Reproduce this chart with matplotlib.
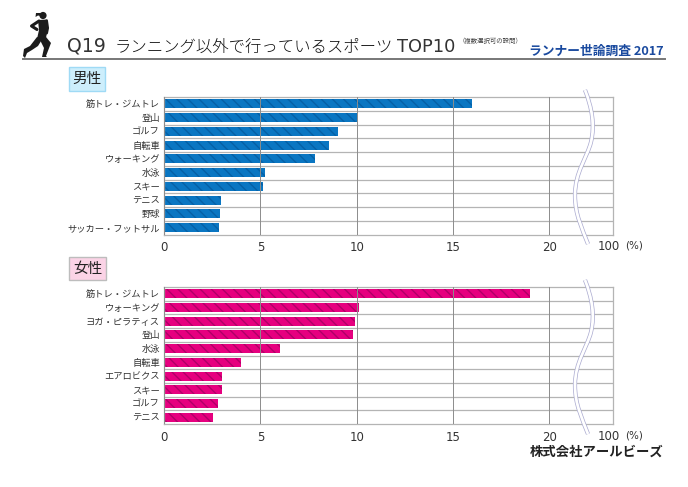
#!/usr/bin/env python3
# -*- coding: utf-8 -*-
import matplotlib
matplotlib.use("Agg")
import matplotlib.pyplot as plt
from matplotlib.patches import Circle, PathPatch, Polygon, Rectangle
from matplotlib.path import Path

plt.rcParams['font.family'] = ['Noto Sans CJK JP', 'DejaVu Sans']
plt.rcParams['hatch.linewidth'] = 1.0

W, H = 688, 487

male_labels = ["筋トレ・ジムトレ", "登山", "ゴルフ", "自転車", "ウォーキング",
               "水泳", "スキー", "テニス", "野球", "サッカー・フットサル"]
male_values = [16.0, 10.0, 9.05, 8.55, 7.85, 5.25, 5.15, 2.95, 2.9, 2.85]

female_labels = ["筋トレ・ジムトレ", "ウォーキング", "ヨガ・ピラティス", "登山", "水泳",
                 "自転車", "エアロビクス", "スキー", "ゴルフ", "テニス"]
female_values = [19.0, 10.1, 9.9, 9.8, 6.0, 4.0, 3.0, 3.0, 2.8, 2.55]

x_ticks = [0, 5, 10, 15, 20]
x_tick_labels = ["0", "5", "10", "15", "20"]
x_end = 23.3  # right edge of the plot, just past the axis break

TEXT = '#333333'
GRID = '#b4b4b4'


def draw_panel(fig, labels, values, top, bottom, color, hatch_color):
    ax = fig.add_axes([164 / W, 1 - bottom / H, (613 - 164) / W, (bottom - top) / H])
    ax.barh(labels, values, height=0.66, color=color, edgecolor=hatch_color,
            linewidth=0, hatch='\\\\\\', zorder=2)
    ax.set_xlim(0, x_end)
    ax.set_ylim(len(labels) - 0.5, -0.5)
    ax.set_xticks(x_ticks)
    ax.set_xticklabels(x_tick_labels, fontsize=8.5, color=TEXT, family='DejaVu Sans')
    ax.tick_params(axis='x', length=0, pad=5)
    ax.tick_params(axis='y', length=0, pad=3, labelsize=6.7, labelcolor=TEXT)
    ax.grid(True, axis='x', color='#8c8c8c', linewidth=0.7, zorder=3)
    ax.set_axisbelow(False)
    for i in range(len(labels) - 1):
        ax.axhline(i + 0.5, color=GRID, linewidth=0.9, zorder=1)
    for side in ax.spines.values():
        side.set_color(GRID)
        side.set_linewidth(0.9)
    return ax


def draw_break(over, dy):
    verts = [(585, 90), (592, 108), (595, 125), (591, 142),
             (587, 158), (575, 172), (575, 195),
             (575, 215), (582, 228), (588, 244)]
    verts = [(x, y + dy) for x, y in verts]
    codes = [Path.MOVETO] + [Path.CURVE4] * 9
    path = Path(verts, codes)
    over.add_patch(PathPatch(path, fc='none', ec='#a9a9cf', lw=3.0))
    over.add_patch(PathPatch(path, fc='none', ec='white', lw=2.0))


def draw_runner(over):
    ink = '#1c1c1c'
    over.add_patch(Circle((43, 15.5), 3.6, color=ink, lw=0))
    over.add_patch(Polygon([(41, 13), (36, 13), (35.5, 17), (38, 15.5), (41, 16)], color=ink, lw=0))
    # torso and hips
    over.add_patch(Polygon([(38, 20), (47.5, 19.5), (48, 27), (46, 38), (37, 39), (39, 30)],
                           color=ink, lw=0))
    # arms
    over.plot([39, 31.5, 37], [21, 26, 29.5], color=ink, lw=2.2, solid_capstyle='round')
    over.plot([46.5, 47.5, 46.5], [21, 28, 33], color=ink, lw=2.2, solid_capstyle='round')
    # front leg
    over.add_patch(Polygon([(40, 37), (46, 37), (51, 43), (46, 56), (47, 57), (42, 57), (44, 48), (41, 42)],
                           color=ink, lw=0))
    # back leg
    over.add_patch(Polygon([(37, 37), (43, 38), (38, 46), (32, 50), (27, 53), (25, 58), (23, 56),
                            (24, 49), (30, 46)], color=ink, lw=0))


def main():
    fig = plt.figure(figsize=(W / 100, H / 100), dpi=100, facecolor='white')

    draw_panel(fig, male_labels, male_values, 97, 234.5, '#0a76c2', '#0560a6')
    draw_panel(fig, female_labels, female_values, 287, 424, '#e6007f', '#b00068')

    # overlay in picture pixels for the header, badges and axis breaks
    over = fig.add_axes([0, 0, 1, 1], zorder=5)
    over.set_xlim(0, W)
    over.set_ylim(H, 0)
    over.axis('off')

    over.plot([23, 665], [59, 59], color='#777777', lw=1.4)
    draw_runner(over)

    over.text(67, 52, "Q19", fontsize=13.6, color='#333333', family='DejaVu Sans', va='baseline')
    over.text(115, 52, "ランニング以外で行っているスポーツ", fontsize=11.8, color='#111111',
              fontweight='light', va='baseline')
    over.text(397, 52, "TOP10", fontsize=12.8, color='#333333', family='DejaVu Sans', va='baseline')
    over.text(459, 43, "（複数選択可の設問）", fontsize=4.6, color='#444444', va='baseline')
    over.text(529, 55, "ランナー世論調査 2017", fontsize=9.2, color='#1a4a9f',
              fontweight='bold', va='baseline')

    over.add_patch(Rectangle((68.5, 66.5), 36, 24.5, fc='#cdeefc', ec='#9fdaf5', lw=1))
    over.text(86.5, 79, "男性", fontsize=10.5, color='#222222', ha='center', va='center')
    over.add_patch(Rectangle((69, 256.5), 37, 23, fc='#fbd3e6', ec='#bdbdbd', lw=1))
    over.text(87.5, 268.5, "女性", fontsize=10.5, color='#222222', ha='center', va='center')

    draw_break(over, 0)
    draw_break(over, 190)

    for y in (246, 436):
        over.text(598, y, "100", fontsize=8.5, color=TEXT, family='DejaVu Sans', va='center')
        over.text(625, y, "(%)", fontsize=7.5, color=TEXT, family='DejaVu Sans', va='center')

    over.text(530, 452, "株式会社アールビーズ", fontsize=9.6, color='#222222',
              fontweight='bold', va='center')

    fig.savefig("out.png", dpi=100)
    plt.close(fig)


if __name__ == "__main__":
    main()
